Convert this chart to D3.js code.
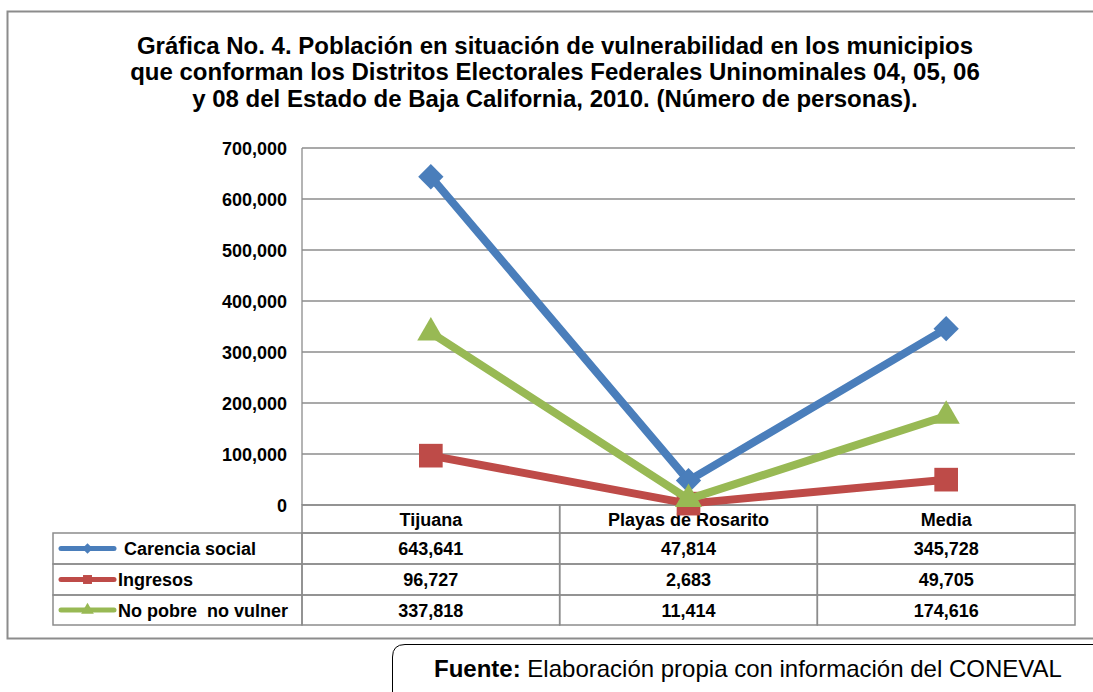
<!DOCTYPE html>
<html lang="es">
<head>
<meta charset="UTF-8">
<title>Gráfica No. 4</title>
<script src="https://cdn.jsdelivr.net/npm/d3@7"></script>
<style>
  body { margin: 0; background: #fff; }
  svg { display: block; font-family: 'Liberation Sans', Arial, sans-serif; }
  .grid line { stroke: #8c8c8c; stroke-width: 1.3px; }
  .ytick { font-size: 18px; font-weight: bold; fill: #000; }
  .cell { fill: none; stroke: #8c8c8c; stroke-width: 1.5px; }
  .tbl { font-size: 18px; font-weight: bold; fill: #000; white-space: pre; }
</style>
</head>
<body>
<div id="chart"></div>
<script>
// datos
const categories = ["Tijuana", "Playas de Rosarito", "Media"];
const seriesNames = ["Carencia social", "Ingresos", "No pobre  no vulner"];
const carencia = [643641, 47814, 345728];
const ingresos = [96727, 2683, 49705];
const noPobre = [337818, 11414, 174616];
const yTicks = [0, 100000, 200000, 300000, 400000, 500000, 600000, 700000];
const titleLines = [
  "Gráfica No. 4. Población en situación de vulnerabilidad en los municipios",
  "que conforman los Distritos Electorales Federales Uninominales 04, 05, 06",
  "y 08 del Estado de Baja California, 2010. (Número de personas)."
];

const colors = ["#4a7ebb", "#be4b48", "#98b954"];
const markers = [d3.symbolSquare, d3.symbolSquare, d3.symbolTriangle];
const rot = [45, 0, 0];            // el rombo es un cuadrado girado
const markerSize = [320, 560, 320];
const keySize = [55, 80, 70];
const series = [carencia, ingresos, noPobre];

const W = 1093, H = 692;
const svg = d3.select("#chart").append("svg").attr("width", W).attr("height", H);

// marco exterior
svg.append("path")
  .attr("d", "M1093,11.5 H7.5 V638.5 H1093")
  .attr("fill", "none").attr("stroke", "#8c8c8c").attr("stroke-width", 2);

// titulo
svg.append("g").selectAll("text").data(titleLines).join("text")
  .attr("x", 555).attr("y", (d, i) => 54 + i * 26.3)
  .attr("text-anchor", "middle")
  .style("font-size", "24px").style("font-weight", "bold")
  .text(d => d);

const plotL = 302, plotR = 1075, plotT = 148, plotB = 505;
const x = d3.scaleBand().domain(categories).range([plotL, plotR]);
const y = d3.scaleLinear().domain([0, 700000]).range([plotB, plotT]);
const fmt = d3.format(",");

// lineas de cuadricula
svg.append("g").attr("class", "grid").selectAll("line").data(yTicks).join("line")
  .attr("x1", plotL).attr("x2", plotR)
  .attr("y1", d => y(d)).attr("y2", d => y(d));

svg.append("line").attr("x1", plotL).attr("x2", plotL).attr("y1", plotT).attr("y2", plotB)
  .attr("stroke", "#8c8c8c").attr("stroke-width", 1.3);

svg.append("g").selectAll("text").data(yTicks).join("text")
  .attr("class", "ytick")
  .attr("x", 287).attr("y", d => y(d) + 6.5)
  .attr("text-anchor", "end")
  .text(d => d === 0 ? "0" : fmt(d));

// tabla de datos
const rowTops = [505, 533, 564, 595, 625];
const legendLeft = 53;
const tbl = svg.append("g");
categories.forEach(c => {
  tbl.append("rect").attr("class", "cell")
    .attr("x", x(c)).attr("y", rowTops[0])
    .attr("width", x.bandwidth()).attr("height", rowTops[1] - rowTops[0]);
  tbl.append("text").attr("class", "tbl")
    .attr("x", x(c) + x.bandwidth() / 2).attr("y", (rowTops[0] + rowTops[1]) / 2 + 6.5)
    .attr("text-anchor", "middle").text(c);
});
series.forEach((s, i) => {
  const y0 = rowTops[i + 1], h = rowTops[i + 2] - y0;
  const cy = y0 + h / 2;
  tbl.append("rect").attr("class", "cell")
    .attr("x", legendLeft).attr("y", y0).attr("width", plotL - legendLeft).attr("height", h);
  categories.forEach((c, j) => {
    tbl.append("rect").attr("class", "cell")
      .attr("x", x(c)).attr("y", y0).attr("width", x.bandwidth()).attr("height", h);
    tbl.append("text").attr("class", "tbl")
      .attr("x", x(c) + x.bandwidth() / 2).attr("y", cy + 6.5)
      .attr("text-anchor", "middle").text(fmt(s[j]));
  });
  // clave de leyenda
  tbl.append("line").attr("x1", 61).attr("x2", 114).attr("y1", cy).attr("y2", cy)
    .attr("stroke", colors[i]).attr("stroke-width", 5).attr("stroke-linecap", "round");
  tbl.append("path").attr("transform", `translate(87.5,${cy}) rotate(${rot[i]})`)
    .attr("d", d3.symbol(markers[i], keySize[i])).attr("fill", colors[i]);
  tbl.append("text").attr("class", "tbl")
    .attr("x", i === 0 ? 124 : 118).attr("y", cy + 6.5)
    .text(seriesNames[i]);
});

// series
const cx = c => x(c) + x.bandwidth() / 2;
const line = d3.line().x((d, j) => cx(categories[j])).y(d => y(d));
series.forEach((s, i) => {
  const g = svg.append("g");
  g.append("path").datum(s)
    .attr("d", line).attr("fill", "none")
    .attr("stroke", colors[i]).attr("stroke-width", 8).attr("stroke-linejoin", "round");
  g.selectAll(null).data(s).join("path")
    .attr("transform", (d, j) => `translate(${cx(categories[j])},${y(d)}) rotate(${rot[i]})`)
    .attr("d", d3.symbol(markers[i], markerSize[i]))
    .attr("fill", colors[i]);
});

// fuente
svg.append("path")
  .attr("d", "M392.5,692 V657 Q392.5,644.5 405,644.5 H1093")
  .attr("fill", "none").attr("stroke", "#000").attr("stroke-width", 1);
const src = svg.append("text").attr("x", 434).attr("y", 677).style("font-size", "24px");
src.append("tspan").style("font-weight", "bold").text("Fuente:");
src.append("tspan").text(" Elaboración propia con información del CONEVAL");
</script>
</body>
</html>
